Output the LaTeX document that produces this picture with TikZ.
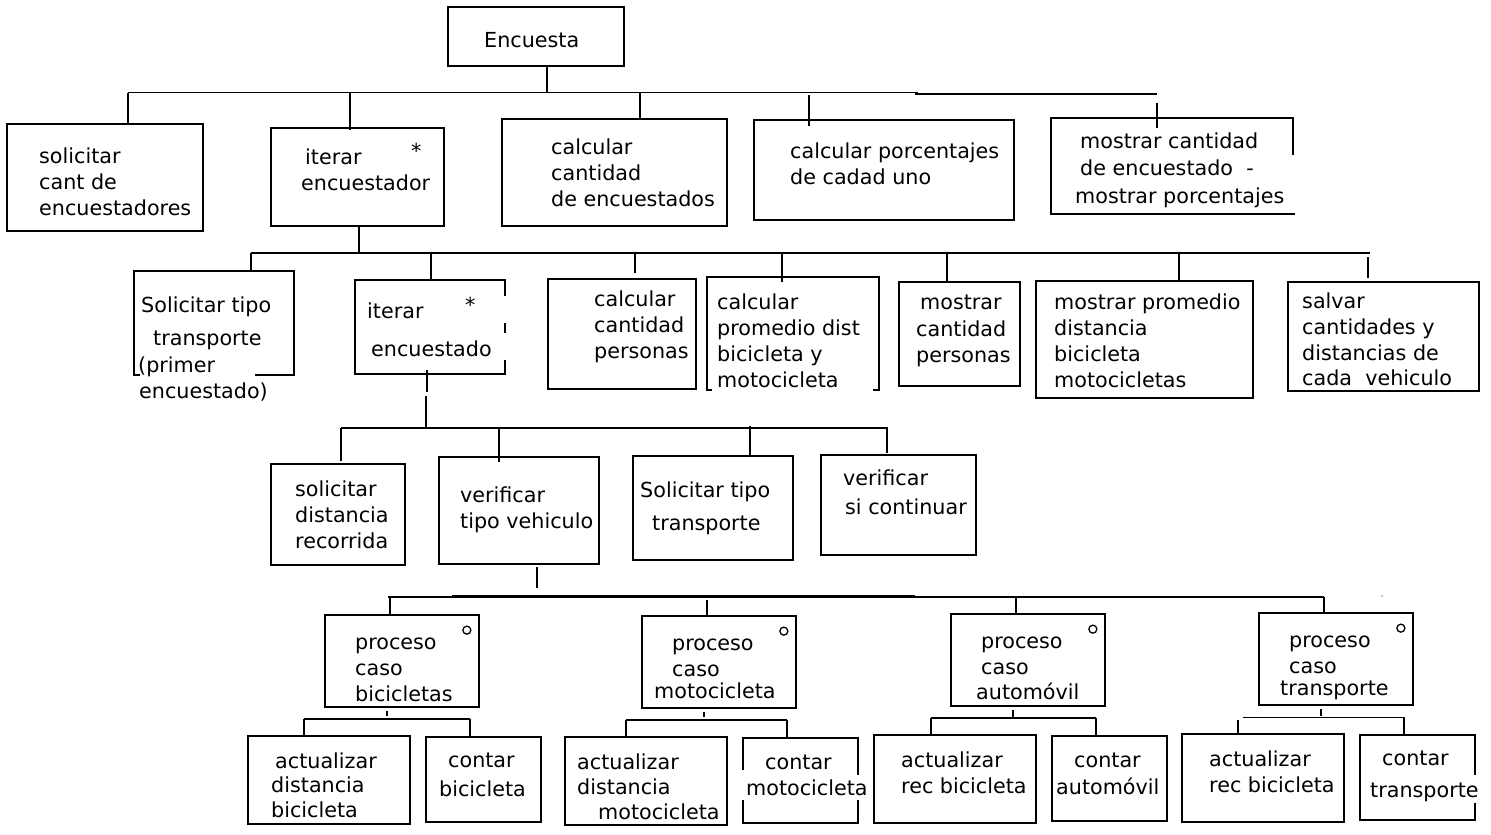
\documentclass[tikz,border=0pt]{standalone}
\usepackage{fontspec}
\setmainfont{DejaVu Sans}
\begin{document}
\begin{tikzpicture}[x=1pt,y=-1pt,
  box/.style={draw,line width=1.7pt,inner sep=0pt},
  ghost/.style={inner sep=0pt},
  ln/.style={line width=1.7pt},
  thin/.style={line width=1pt},
  txt/.style={anchor=base west,inner sep=0pt,font=\fontsize{20.7}{26}\selectfont}]
\useasboundingbox[fill=white] (0,0) rectangle (1491,835);
\newcommand\bx[6][box]{\node[#1,minimum width={(#5-#3)*1pt},minimum height={(#6-#4)*1pt}] (#2) at ({(#3+#5)/2},{(#4+#6)/2}) {};}
\newcommand\tl[4]{\node[txt] (#1) at (#2,#3) {#4};}
% ---- boxes ----
\bx{root}{448}{7}{624}{66}
\bx{a1}{7}{124}{203}{231}
\bx{a2}{271}{128}{444}{226}
\bx{a3}{502}{119}{727}{226}
\bx{a4}{754}{120}{1014}{220}
\bx[ghost]{a5}{1051}{118}{1293}{214}
\draw[ln] (a5.east |- 0,155) -- (a5.north east) -- (a5.north west) -- (a5.south west) -- ([xshift=2pt]a5.south east);
\bx[ghost]{b1}{134}{271}{294}{375}
\draw[ln] ([xshift=6pt]b1.south west) -- (b1.south west) -- (b1.north west) -- (b1.north east) -- (b1.south east) -- ([xshift=-39pt]b1.south east);
\bx[ghost]{b2}{355}{280}{505}{374}
\draw[ln] ([yshift=-16pt]b2.north east) -- (b2.north east) -- (b2.north west) -- (b2.south west) -- (b2.south east) -- ([yshift=14pt]b2.south east);
\draw[ln] (b2.east |- 0,323) -- (b2.east |- 0,333);
\bx{b3}{548}{279}{696}{389}
\bx[ghost]{b4}{707}{277}{879}{390}
\draw[ln] ([xshift=5pt]b4.south west) -- (b4.south west) -- (b4.north west) -- (b4.north east) -- (b4.south east) -- ([xshift=-6pt]b4.south east);
\bx{b5}{899}{282}{1020}{386}
\bx{b6}{1036}{281}{1253}{398}
\bx{b7}{1288}{282}{1479}{391}
\bx{c1}{271}{464}{405}{565}
\bx{c2}{439}{457}{599}{564}
\bx{c3}{633}{456}{793}{560}
\bx{c4}{821}{455}{976}{555}
\bx{d1}{325}{615}{479}{707}
\bx{d2}{642}{616}{796}{708}
\bx{d3}{951}{614}{1105}{706}
\bx{d4}{1259}{613}{1413}{705}
\bx{e1}{248}{736}{410}{824}
\bx{e2}{426}{737}{541}{822}
\bx{f1}{565}{737}{727}{825}
\bx[ghost]{f2}{743}{738}{858}{823}
\draw[ln] (f2.west |- 0,770) -- (f2.north west) -- (f2.north east) -- (f2.east |- 0,775);
\draw[ln] (f2.west |- 0,800) -- (f2.south west) -- (f2.south east) -- (f2.east |- 0,800);
\bx{g1}{874}{735}{1036}{823}
\bx{g2}{1052}{736}{1167}{821}
\bx{h1}{1182}{734}{1344}{822}
\bx[ghost]{h2}{1360}{735}{1475}{820}
\draw[ln] (h2.east |- 0,775) -- (h2.north east) -- (h2.north west) -- (h2.south west) -- (h2.south east) -- (h2.east |- 0,803);
% ---- texts ----
\tl{tr}{484}{47}{Encuesta}
\tl{ta1a}{39}{163}{solicitar}
\tl{ta1b}{39}{189}{cant de}
\tl{ta1c}{39}{215}{encuestadores}
\tl{ta2a}{305}{164}{iterar}
\tl{ta2s}{411}{158}{*}
\tl{ta2b}{301}{190}{encuestador}
\tl{ta3a}{551}{154}{calcular}
\tl{ta3b}{551}{180}{cantidad}
\tl{ta3c}{551}{206}{de encuestados}
\tl{ta4a}{790}{158}{calcular porcentajes}
\tl{ta4b}{790}{184}{de cadad uno}
\tl{ta5a}{1080}{148}{mostrar cantidad}
\tl{ta5b}{1080}{175}{de encuestado\ \ -}
\tl{ta5c}{1075}{203}{mostrar porcentajes}
\tl{tb1a}{141}{312}{Solicitar tipo}
\tl{tb1b}{153}{345}{transporte}
\tl{tb1c}{138}{372}{(primer}
\tl{tb1d}{139}{398}{encuestado)}
\tl{tb2a}{367}{318}{iterar}
\tl{tb2s}{465}{312}{*}
\tl{tb2b}{371}{356}{encuestado}
\tl{tb3a}{594}{306}{calcular}
\tl{tb3b}{594}{332}{cantidad}
\tl{tb3c}{594}{358}{personas}
\tl{tb4a}{717}{309}{calcular}
\tl{tb4b}{717}{335}{promedio dist}
\tl{tb4c}{717}{361}{bicicleta y}
\tl{tb4d}{717}{387}{motocicleta}
\tl{tb5a}{920}{309}{mostrar}
\tl{tb5b}{916}{336}{cantidad}
\tl{tb5c}{916}{362}{personas}
\tl{tb6a}{1054}{309}{mostrar promedio}
\tl{tb6b}{1054}{335}{distancia}
\tl{tb6c}{1054}{361}{bicicleta}
\tl{tb6d}{1054}{387}{motocicletas}
\tl{tb7a}{1302}{308}{salvar}
\tl{tb7b}{1302}{334}{cantidades y}
\tl{tb7c}{1302}{360}{distancias de}
\tl{tb7d}{1302}{385}{cada\ \ vehiculo}
\tl{tc1a}{295}{496}{solicitar}
\tl{tc1b}{295}{522}{distancia}
\tl{tc1c}{295}{548}{recorrida}
\tl{tc2a}{460}{502}{verificar}
\tl{tc2b}{460}{528}{tipo vehiculo}
\tl{tc3a}{640}{497}{Solicitar tipo}
\tl{tc3b}{652}{530}{transporte}
\tl{tc4a}{843}{485}{verificar}
\tl{tc4b}{845}{514}{si continuar}
\tl{td1a}{355}{649}{proceso}
\tl{td1b}{355}{675}{caso}
\tl{td1c}{355}{701}{bicicletas}
\tl{td2a}{672}{650}{proceso}
\tl{td2b}{672}{676}{caso}
\tl{td2c}{654}{698}{motocicleta}
\tl{td3a}{981}{648}{proceso}
\tl{td3b}{981}{674}{caso}
\tl{td3c}{976}{699}{automóvil}
\tl{td4a}{1289}{647}{proceso}
\tl{td4b}{1289}{673}{caso}
\tl{td4c}{1280}{695}{transporte}
\tl{te1a}{275}{768}{actualizar}
\tl{te1b}{271}{792}{distancia}
\tl{te1c}{271}{817}{bicicleta}
\tl{te2a}{448}{767}{contar}
\tl{te2b}{439}{796}{bicicleta}
\tl{tf1a}{577}{769}{actualizar}
\tl{tf1b}{577}{794}{distancia}
\tl{tf1c}{598}{819}{motocicleta}
\tl{tf2a}{765}{769}{contar}
\tl{tf2b}{746}{795}{motocicleta}
\tl{tg1a}{901}{767}{actualizar}
\tl{tg1b}{901}{793}{rec bicicleta}
\tl{tg2a}{1074}{767}{contar}
\tl{tg2b}{1056}{794}{automóvil}
\tl{th1a}{1209}{766}{actualizar}
\tl{th1b}{1209}{792}{rec bicicleta}
\tl{th2a}{1382}{765}{contar}
\tl{th2b}{1370}{797}{transporte}
% ---- circles ----
\foreach \n in {d1,d2,d3,d4}
  \draw[line width=1.3pt] ([xshift=-13pt,yshift=-16pt]\n.north east) circle[radius=4pt];
% ---- connectors level 0-1 ----
\coordinate (j0) at (547,93);
\draw[ln] (root.south -| j0) -- (j0);
\draw[ln] (128,92.5) coordinate (L0) -- (918,92.5) coordinate (R0a);
\draw[ln] (915,94) -- (1157,94) coordinate (R0);
\draw[ln] (L0) -- (L0 |- a1.north);
\draw[ln] (350,93) coordinate (k2) -- (k2 |- a2.north) -- ++(0,3);
\draw[ln] (640,93) coordinate (k3) -- (k3 |- a3.north);
\draw[ln] (809,95) coordinate (k4) -- (k4 |- a4.north) -- ++(0,7);
\draw[ln] (1157,103) coordinate (k5) -- (k5 |- a5.north) -- ++(0,10);
% ---- level 1-2 ----
\coordinate (j1) at (359,253);
\draw[ln] (a2.south -| j1) -- (j1);
\draw[ln] (251,253) coordinate (L1) -- (1370,253) coordinate (R1);
\draw[ln] (L1) -- (L1 |- b1.north);
\draw[ln] (431,253) coordinate (m2) -- (m2 |- b2.north);
\draw[ln] (635,253) coordinate (m3) -- (m3 |- 0,273);
\draw[ln] (782,253) coordinate (m4) -- (m4 |- b4.north) -- ++(0,5);
\draw[ln] (947,253) coordinate (m5) -- (m5 |- b5.north);
\draw[ln] (1179,253) coordinate (m6) -- (m6 |- b6.north);
\draw[ln] (1368,257) coordinate (m7) -- (m7 |- 0,278);
% ---- level 2-3 ----
\coordinate (j2) at (427,428);
\draw[ln] ([yshift=4pt]b2.south -| j2) -- (j2 |- 0,392);
\draw[ln] (426,396) -- (426,428);
\draw[ln] (341,428) coordinate (L2) -- (888,428) coordinate (R2);
\draw[ln] (L2) -- ([yshift=2pt]L2 |- c1.north);
\draw[ln] (499,428) coordinate (n2) -- (n2 |- c2.north) -- ++(0,6);
\draw[ln] (750,426) coordinate (n3) -- (n3 |- c3.north);
\draw[ln] (887,428) coordinate (n4) -- (n4 |- 0,453);
% ---- level 3-4 ----
\coordinate (j3) at (537,588);
\draw[ln] (537,567) -- (j3);
\draw[ln] (388,597) coordinate (L3) -- (1324,597) coordinate (R3);
\draw[line width=2.4pt] (452,596.6) -- (915,596.6);
\fill (1382,596) circle[radius=0.6pt];
\draw[ln] (390,597) coordinate (p1) -- (p1 |- d1.north);
\draw[ln] (707,600) coordinate (p2) -- (p2 |- d2.north);
\draw[ln] (1016,597) coordinate (p3) -- (p3 |- d3.north);
\draw[ln] (R3) -- (R3 |- d4.north);
% ---- level 4-5 ----
\draw[ln] (387,711) -- (387,716);
\draw[ln] (304,719) coordinate (q1) -- (470,719) coordinate (q2);
\draw[ln] (q1) -- (q1 |- e1.north);
\draw[ln] (q2) -- (q2 |- e2.north);
\draw[ln] (704,712) -- (704,717);
\draw[ln] (626,720) coordinate (r1) -- (787,720) coordinate (r2);
\draw[ln] (r1) -- (r1 |- f1.north);
\draw[ln] (r2) -- (r2 |- f2.north);
\draw[ln] (1013,710) -- (1013,717);
\draw[ln] (931,718) coordinate (s1) -- (1096,718) coordinate (s2);
\draw[ln] (s1) -- (s1 |- g1.north);
\draw[ln] (s2) -- (s2 |- g2.north);
\draw[ln] (1321,709) -- (1321,716);
\draw[thin] (1243,717) -- (1404,717) coordinate (u2);
\draw[ln] (1238,720) coordinate (u1) -- (u1 |- h1.north);
\draw[ln] (u2) -- (u2 |- h2.north);
\end{tikzpicture}
\end{document}
